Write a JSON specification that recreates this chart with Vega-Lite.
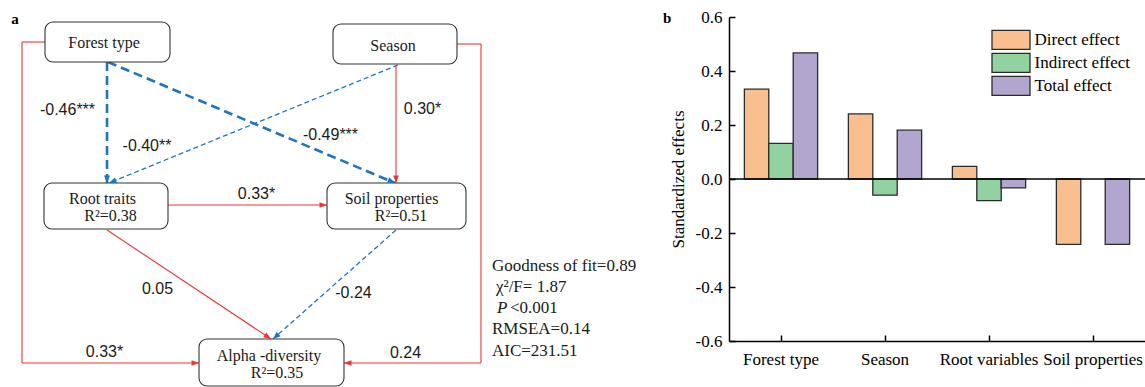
{
  "$schema": "https://vega.github.io/schema/vega-lite/v6.json",
  "padding": 0,
  "background": "white",
  "config": {"view": {"stroke": null}, "font": "Liberation Serif"},
  "spacing": 13,
  "resolve": {"legend": {"color": "independent"}, "scale": {"color": "independent"}},
  "datasets": {
    "edges": [
      {"x1": 107, "y1": 62, "x2": 107, "y2": 183, "kind": "thick", "head": true},
      {"x1": 108, "y1": 62, "x2": 395, "y2": 183, "kind": "thick", "head": true},
      {"x1": 398, "y1": 65, "x2": 109, "y2": 183, "kind": "thin", "head": true},
      {"x1": 396, "y1": 65, "x2": 396, "y2": 183, "kind": "red", "head": true},
      {"x1": 168, "y1": 205, "x2": 327, "y2": 205, "kind": "red", "head": true},
      {"x1": 107, "y1": 230, "x2": 271, "y2": 339, "kind": "red", "head": true},
      {"x1": 396, "y1": 230, "x2": 273, "y2": 339, "kind": "thin", "head": true},
      {"x1": 45, "y1": 42, "x2": 22, "y2": 42, "kind": "red", "head": false},
      {"x1": 22, "y1": 42, "x2": 22, "y2": 363, "kind": "red", "head": false},
      {"x1": 22, "y1": 363, "x2": 199, "y2": 363, "kind": "red", "head": true},
      {"x1": 457, "y1": 44, "x2": 481, "y2": 44, "kind": "red", "head": false},
      {"x1": 481, "y1": 44, "x2": 481, "y2": 363, "kind": "red", "head": false},
      {"x1": 481, "y1": 363, "x2": 344, "y2": 363, "kind": "red", "head": true}
    ],
    "boxes": [
      {"name": "Forest type", "x1": 45, "x2": 170, "y1": 22, "y2": 62},
      {"name": "Season", "x1": 333, "x2": 457, "y1": 24, "y2": 64},
      {"name": "Root traits", "x1": 44, "x2": 168, "y1": 183, "y2": 229},
      {"name": "Soil properties", "x1": 327, "x2": 466, "y1": 183, "y2": 229},
      {"name": "Alpha -diversity", "x1": 199, "x2": 344, "y1": 339, "y2": 386}
    ],
    "nodeText": [
      {"t": "Forest type", "x": 104, "y": 43},
      {"t": "Season", "x": 393, "y": 45.5},
      {"t": "Root traits", "x": 102.5, "y": 199},
      {"t": "R²=0.38", "x": 110.5, "y": 216},
      {"t": "Soil properties", "x": 391.5, "y": 199},
      {"t": "R²=0.51", "x": 401, "y": 216},
      {"t": "Alpha -diversity", "x": 269, "y": 356},
      {"t": "R²=0.35", "x": 277, "y": 373}
    ],
    "coefText": [
      {"t": "-0.46***", "x": 67.5, "y": 110},
      {"t": "-0.40**", "x": 147, "y": 146},
      {"t": "-0.49***", "x": 330.5, "y": 135},
      {"t": "0.30*", "x": 422.5, "y": 108.5},
      {"t": "0.33*", "x": 256.5, "y": 194},
      {"t": "0.05", "x": 157.5, "y": 289},
      {"t": "-0.24", "x": 353.5, "y": 293},
      {"t": "0.33*", "x": 104.5, "y": 352},
      {"t": "0.24", "x": 405.5, "y": 353}
    ],
    "fitText": [
      {"t": "Goodness of fit=0.89", "x": 492, "y": 266},
      {"t": "χ²/F= 1.87", "x": 496, "y": 287},
      {"t": "<0.001", "x": 510, "y": 308},
      {"t": "RMSEA=0.14", "x": 492, "y": 329},
      {"t": "AIC=231.51", "x": 492, "y": 351}
    ],
    "italicText": [
      {"t": "P", "x": 497, "y": 308}
    ],
    "panelLabel": [
      {"t": "a", "x": 15, "y": 19}
    ],
    "bars": [
      {"variable": "Forest type", "effect": "Direct effect", "value": 0.333},
      {"variable": "Forest type", "effect": "Indirect effect", "value": 0.132},
      {"variable": "Forest type", "effect": "Total effect", "value": 0.467},
      {"variable": "Season", "effect": "Direct effect", "value": 0.241},
      {"variable": "Season", "effect": "Indirect effect", "value": -0.06},
      {"variable": "Season", "effect": "Total effect", "value": 0.181},
      {"variable": "Root variables", "effect": "Direct effect", "value": 0.047},
      {"variable": "Root variables", "effect": "Indirect effect", "value": -0.08},
      {"variable": "Root variables", "effect": "Total effect", "value": -0.033},
      {"variable": "Soil properties", "effect": "Direct effect", "value": -0.242},
      {"variable": "Soil properties", "effect": "Total effect", "value": -0.242}
    ]
  },
  "hconcat": [
    {
      "width": 650,
      "height": 370,
      "encoding": {
        "x": {"field": "x1", "type": "quantitative", "scale": {"domain": [0, 650]}, "axis": null},
        "y": {"field": "y1", "type": "quantitative", "scale": {"domain": [17, 387], "reverse": true}, "axis": null}
      },
      "layer": [
        {
          "data": {"name": "edges"},
          "transform": [{"filter": "datum.kind === 'red'"}],
          "mark": {"type": "rule", "color": "#EE3431", "strokeWidth": 1.1},
          "encoding": {"x2": {"field": "x2"}, "y2": {"field": "y2"}}
        },
        {
          "data": {"name": "edges"},
          "transform": [{"filter": "datum.kind === 'thick'"}],
          "mark": {"type": "rule", "color": "#1F74BD", "strokeWidth": 2.6, "strokeDash": [9, 5]},
          "encoding": {"x2": {"field": "x2"}, "y2": {"field": "y2"}}
        },
        {
          "data": {"name": "edges"},
          "transform": [{"filter": "datum.kind === 'thin'"}],
          "mark": {"type": "rule", "color": "#1F74BD", "strokeWidth": 1.3, "strokeDash": [5, 3]},
          "encoding": {"x2": {"field": "x2"}, "y2": {"field": "y2"}}
        },
        {
          "data": {"name": "boxes"},
          "mark": {"type": "rect", "fill": "white", "stroke": "#333333", "strokeWidth": 1.1, "cornerRadius": 8},
          "encoding": {"x2": {"field": "x2"}, "y2": {"field": "y2"}}
        },
        {
          "data": {"name": "edges"},
          "transform": [
            {"filter": "datum.head && datum.kind === 'red'"},
            {"calculate": "atan2(datum.x2 - datum.x1, datum.y1 - datum.y2) * 180 / PI", "as": "ang"}
          ],
          "mark": {"type": "point", "shape": "M0,0L-0.75,2L0.75,2Z", "filled": true, "color": "#EE3431", "size": 56, "opacity": 1},
          "encoding": {
            "x": {"field": "x2", "type": "quantitative"},
            "y": {"field": "y2", "type": "quantitative"},
            "angle": {"field": "ang", "type": "quantitative", "scale": null}
          }
        },
        {
          "data": {"name": "edges"},
          "transform": [
            {"filter": "datum.head && datum.kind !== 'red'"},
            {"calculate": "atan2(datum.x2 - datum.x1, datum.y1 - datum.y2) * 180 / PI", "as": "ang"}
          ],
          "mark": {"type": "point", "shape": "M0,0L-0.8,2L0.8,2Z", "filled": true, "color": "#1F74BD", "size": 56, "opacity": 1},
          "encoding": {
            "x": {"field": "x2", "type": "quantitative"},
            "y": {"field": "y2", "type": "quantitative"},
            "angle": {"field": "ang", "type": "quantitative", "scale": null}
          }
        },
        {
          "data": {"name": "nodeText"},
          "mark": {"type": "text", "font": "Liberation Serif", "fontSize": 16, "color": "#1a1a1a", "align": "center", "baseline": "middle"},
          "encoding": {
            "x": {"field": "x", "type": "quantitative"},
            "y": {"field": "y", "type": "quantitative"},
            "text": {"field": "t"}
          }
        },
        {
          "data": {"name": "coefText"},
          "mark": {"type": "text", "font": "Liberation Sans", "fontSize": 16, "color": "#1a1a1a", "align": "center", "baseline": "middle"},
          "encoding": {
            "x": {"field": "x", "type": "quantitative"},
            "y": {"field": "y", "type": "quantitative"},
            "text": {"field": "t"}
          }
        },
        {
          "data": {"name": "fitText"},
          "mark": {"type": "text", "font": "Liberation Serif", "fontSize": 17, "color": "#1a1a1a", "align": "left", "baseline": "middle"},
          "encoding": {
            "x": {"field": "x", "type": "quantitative"},
            "y": {"field": "y", "type": "quantitative"},
            "text": {"field": "t"}
          }
        },
        {
          "data": {"name": "italicText"},
          "mark": {"type": "text", "font": "Liberation Serif", "fontSize": 17, "fontStyle": "italic", "color": "#1a1a1a", "align": "left", "baseline": "middle"},
          "encoding": {
            "x": {"field": "x", "type": "quantitative"},
            "y": {"field": "y", "type": "quantitative"},
            "text": {"field": "t"}
          }
        },
        {
          "data": {"name": "panelLabel"},
          "mark": {"type": "text", "font": "Liberation Serif", "fontSize": 15, "fontWeight": "bold", "color": "black", "align": "center", "baseline": "middle"},
          "encoding": {
            "x": {"field": "x", "type": "quantitative"},
            "y": {"field": "y", "type": "quantitative"},
            "text": {"field": "t"}
          }
        }
      ]
    },
    {
      "width": 416,
      "height": 324,
      "title": {"text": ["", "b"], "anchor": "start", "frame": "bounds", "font": "Liberation Serif", "fontSize": 15, "lineHeight": 11, "fontWeight": "bold", "color": "black", "offset": -18, "dx": -6},
      "layer": [
        {
          "data": {"name": "bars"},
          "mark": {"type": "bar", "stroke": "#2b2b2b", "strokeWidth": 1.3},
          "encoding": {
            "x": {
              "field": "variable", "type": "nominal",
              "sort": ["Forest type", "Season", "Root variables", "Soil properties"],
              "scale": {"paddingInner": 0, "paddingOuter": 0},
              "axis": {
                "title": null, "labelAngle": 0, "labelFont": "Liberation Serif", "labelFontSize": 17, "labelColor": "black",
                "domainColor": "black", "domainWidth": 1.5, "tickColor": "black", "tickWidth": 1.5, "tickSize": -6, "labelPadding": 16
              }
            },
            "xOffset": {
              "field": "effect", "type": "nominal",
              "sort": ["Direct effect", "Indirect effect", "Total effect"],
              "scale": {"paddingInner": 0, "paddingOuter": 0.63}
            },
            "y": {
              "field": "value", "type": "quantitative",
              "scale": {"domain": [-0.6, 0.6], "nice": false},
              "axis": {
                "title": "Standardized effects", "titleFont": "Liberation Serif", "titleFontSize": 17, "titleFontWeight": "normal", "titleColor": "black", "titlePadding": 8,
                "values": [-0.6, -0.4, -0.2, 0, 0.2, 0.4, 0.6],
                "labelExpr": "replace(format(datum.value, '.1f'), '\u2212', '-')",
                "labelFont": "Liberation Serif", "labelFontSize": 17, "labelColor": "black",
                "grid": false, "domainColor": "black", "domainWidth": 1.5, "tickColor": "black", "tickWidth": 1.5, "tickSize": -6, "labelPadding": 13
              }
            },
            "color": {
              "field": "effect", "type": "nominal",
              "sort": ["Direct effect", "Indirect effect", "Total effect"],
              "scale": {"domain": ["Direct effect", "Indirect effect", "Total effect"], "range": ["#F9BF8F", "#92D1A0", "#B2A6CE"]},
              "legend": {
                "title": null, "orient": "none", "legendX": 271.5, "legendY": 12.3,
                "symbolType": "M-2,-1H2V1H-2Z", "symbolSize": 361, "symbolStrokeColor": "#2b2b2b", "symbolStrokeWidth": 1.3, "symbolOpacity": 1,
                "labelFont": "Liberation Serif", "labelFontSize": 17, "labelColor": "black", "labelOffset": 13, "rowPadding": -2
              }
            }
          }
        },
        {
          "data": {"values": [{}]},
          "mark": {"type": "rule", "color": "black", "strokeWidth": 1.5},
          "encoding": {"y": {"datum": 0}}
        }
      ]
    }
  ]
}
